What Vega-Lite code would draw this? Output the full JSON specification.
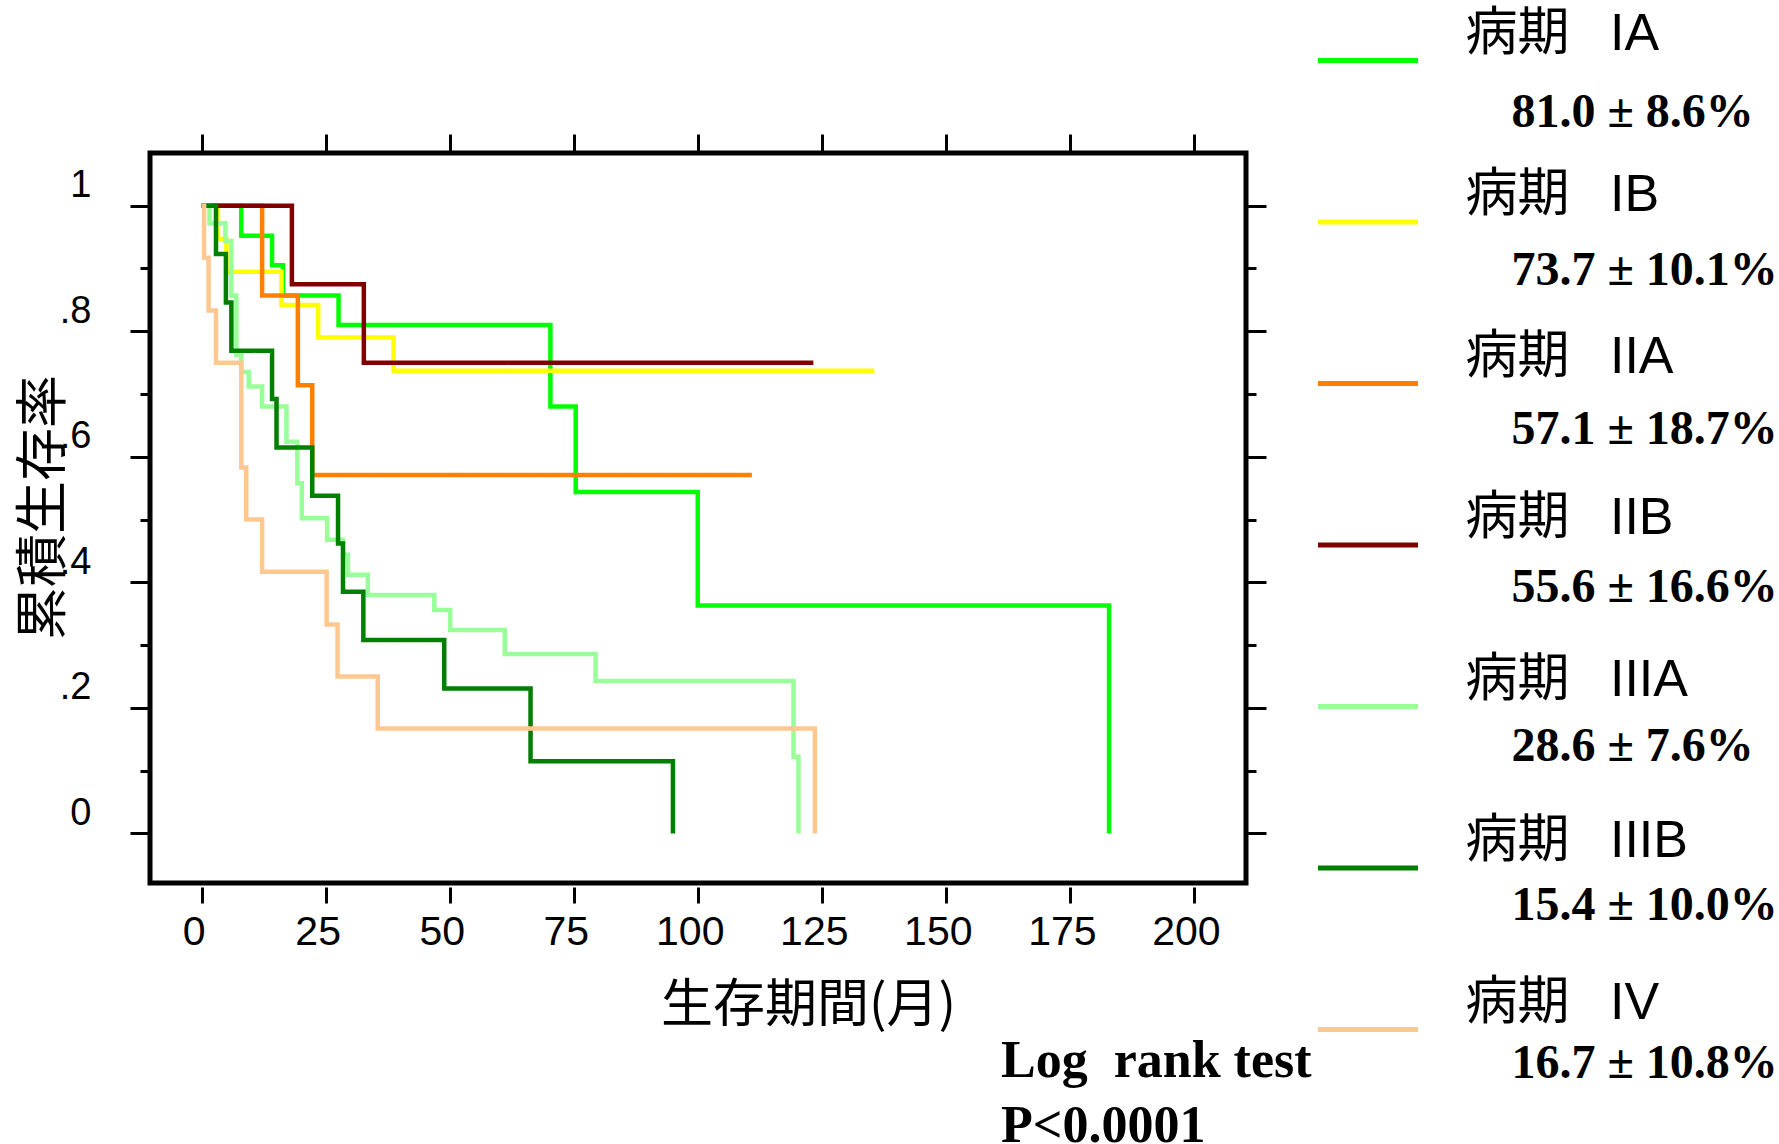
{
  "$schema": "https://vega.github.io/schema/vega-lite/v6.json",
  "width": 1096,
  "height": 730,
  "autosize": {"type": "none"},
  "padding": {"left": 150, "top": 153, "right": 533, "bottom": 261},
  "background": "white",
  "title": {
    "text": ["Log\u00a0\u00a0rank test", "P<0.0001"],
    "orient": "bottom",
    "anchor": "start",
    "frame": "group",
    "dx": 851,
    "offset": -52.5,
    "font": "Liberation Serif",
    "fontSize": 52,
    "fontWeight": "bold",
    "color": "black",
    "lineHeight": 65,
    "align": "left",
    "baseline": "top"
  },
  "datasets": {
    "stages": [
      {"stage": "IA", "label": "病期\u2002\u00a0IA", "rate": "81.0 ± 8.6%"},
      {"stage": "IB", "label": "病期\u2002\u00a0IB", "rate": "73.7 ± 10.1%"},
      {"stage": "IIA", "label": "病期\u2002\u00a0IIA", "rate": "57.1 ± 18.7%"},
      {"stage": "IIB", "label": "病期\u2002\u00a0IIB", "rate": "55.6 ± 16.6%"},
      {"stage": "IIIA", "label": "病期\u2002\u00a0IIIA", "rate": "28.6 ± 7.6%"},
      {"stage": "IIIB", "label": "病期\u2002\u00a0IIIB", "rate": "15.4 ± 10.0%"},
      {"stage": "IV", "label": "病期\u2002\u00a0IV", "rate": "16.7 ± 10.8%"}
    ],
    "curves": [
      {"stage": "IA", "month": 0, "surv": 1},
      {"stage": "IA", "month": 8.0, "surv": 0.952},
      {"stage": "IA", "month": 14.2, "surv": 0.905},
      {"stage": "IA", "month": 16.4, "surv": 0.857},
      {"stage": "IA", "month": 27.6, "surv": 0.810},
      {"stage": "IA", "month": 70.3, "surv": 0.680},
      {"stage": "IA", "month": 75.4, "surv": 0.544},
      {"stage": "IA", "month": 100.0, "surv": 0.363},
      {"stage": "IA", "month": 182.9, "surv": 0},

      {"stage": "IB", "month": 0, "surv": 1},
      {"stage": "IB", "month": 3.3, "surv": 0.947},
      {"stage": "IB", "month": 5.0, "surv": 0.895},
      {"stage": "IB", "month": 16.1, "surv": 0.842},
      {"stage": "IB", "month": 23.5, "surv": 0.790},
      {"stage": "IB", "month": 38.7, "surv": 0.737},
      {"stage": "IB", "month": 135.6, "surv": 0.737},

      {"stage": "IIA", "month": 0, "surv": 1},
      {"stage": "IIA", "month": 12.2, "surv": 0.857},
      {"stage": "IIA", "month": 19.4, "surv": 0.714},
      {"stage": "IIA", "month": 22.3, "surv": 0.571},
      {"stage": "IIA", "month": 110.9, "surv": 0.571},

      {"stage": "IIB", "month": 0, "surv": 1},
      {"stage": "IIB", "month": 18.2, "surv": 0.875},
      {"stage": "IIB", "month": 32.7, "surv": 0.750},
      {"stage": "IIB", "month": 123.3, "surv": 0.750},

      {"stage": "IIIA", "month": 0, "surv": 1},
      {"stage": "IIIA", "month": 1.6, "surv": 0.972},
      {"stage": "IIIA", "month": 4.8, "surv": 0.944},
      {"stage": "IIIA", "month": 6.0, "surv": 0.857},
      {"stage": "IIIA", "month": 7.0, "surv": 0.762},
      {"stage": "IIIA", "month": 8.0, "surv": 0.735},
      {"stage": "IIIA", "month": 9.5, "surv": 0.712},
      {"stage": "IIIA", "month": 12.2, "surv": 0.680},
      {"stage": "IIIA", "month": 17.1, "surv": 0.624},
      {"stage": "IIIA", "month": 19.3, "surv": 0.558},
      {"stage": "IIIA", "month": 20.2, "surv": 0.502},
      {"stage": "IIIA", "month": 25.3, "surv": 0.468},
      {"stage": "IIIA", "month": 28.5, "surv": 0.444},
      {"stage": "IIIA", "month": 29.5, "surv": 0.412},
      {"stage": "IIIA", "month": 33.5, "surv": 0.380},
      {"stage": "IIIA", "month": 46.9, "surv": 0.356},
      {"stage": "IIIA", "month": 50.1, "surv": 0.324},
      {"stage": "IIIA", "month": 61.1, "surv": 0.286},
      {"stage": "IIIA", "month": 79.4, "surv": 0.243},
      {"stage": "IIIA", "month": 119.3, "surv": 0.122},
      {"stage": "IIIA", "month": 120.3, "surv": 0},

      {"stage": "IIIB", "month": 0, "surv": 1},
      {"stage": "IIIB", "month": 2.9, "surv": 0.923},
      {"stage": "IIIB", "month": 4.9, "surv": 0.846},
      {"stage": "IIIB", "month": 6.0, "surv": 0.769},
      {"stage": "IIIB", "month": 14.2, "surv": 0.692},
      {"stage": "IIIB", "month": 15.1, "surv": 0.615},
      {"stage": "IIIB", "month": 22.3, "surv": 0.538},
      {"stage": "IIIB", "month": 27.5, "surv": 0.462},
      {"stage": "IIIB", "month": 28.5, "surv": 0.385},
      {"stage": "IIIB", "month": 32.6, "surv": 0.308},
      {"stage": "IIIB", "month": 48.9, "surv": 0.231},
      {"stage": "IIIB", "month": 66.3, "surv": 0.115},
      {"stage": "IIIB", "month": 95.0, "surv": 0},

      {"stage": "IV", "month": 0, "surv": 1},
      {"stage": "IV", "month": 0.5, "surv": 0.917},
      {"stage": "IV", "month": 1.4, "surv": 0.833},
      {"stage": "IV", "month": 2.9, "surv": 0.750},
      {"stage": "IV", "month": 8.0, "surv": 0.583},
      {"stage": "IV", "month": 9.0, "surv": 0.500},
      {"stage": "IV", "month": 12.2, "surv": 0.417},
      {"stage": "IV", "month": 25.2, "surv": 0.333},
      {"stage": "IV", "month": 27.4, "surv": 0.250},
      {"stage": "IV", "month": 35.5, "surv": 0.167},
      {"stage": "IV", "month": 123.6, "surv": 0}
    ]
  },
  "layer": [
    {
      "data": {"name": "curves"},
      "transform": [
        {"lookup": "stage", "from": {"data": {"name": "stages"}, "key": "stage", "fields": ["label", "rate"]}}
      ],
      "mark": {"type": "line", "interpolate": "step-after", "strokeWidth": 4.5},
      "encoding": {
        "x": {
          "field": "month",
          "type": "quantitative",
          "scale": {"domain": [-10.4, 210.5], "nice": false, "zero": false},
          "axis": {
            "orient": "bottom",
            "values": [0, 25, 50, 75, 100, 125, 150, 175, 200],
            "offset": 4,
            "tickSize": 16,
            "labelFont": "Liberation Sans",
            "labelFontSize": 41,
            "labelPadding": 9,
            "labelOffset": -8,
            "labelFlush": false,
            "labelOverlap": false,
            "title": "生存期間(月)",
            "titleFont": "Noto Sans CJK JP",
            "titleFontSize": 52,
            "titleFontWeight": "normal",
            "titleX": 658,
            "titleY": 118,
            "titleAlign": "center",
            "titleBaseline": "middle"
          }
        },
        "y": {
          "field": "surv",
          "type": "quantitative",
          "scale": {"domain": [-0.079, 1.084], "nice": false, "zero": false},
          "axis": {
            "orient": "left",
            "values": [0, 0.1, 0.2, 0.3, 0.4, 0.5, 0.6, 0.7, 0.8, 0.9, 1],
            "tickSize": {"condition": {"test": "round(datum.value * 10) % 2 == 0", "value": 20}, "value": 10},
            "labelExpr": "datum.value == 0 ? '0' : datum.value == 1 ? '1' : (round(datum.value * 10) % 2 == 0 ? replace(format(datum.value, '.1f'), '0.', '.') : '')",
            "labelFont": "Liberation Sans",
            "labelFontSize": 38,
            "labelPadding": 39,
            "labelOffset": -20,
            "labelFlush": false,
            "labelOverlap": false,
            "title": "累積生存率",
            "titleFont": "Noto Sans CJK JP",
            "titleFontSize": 53,
            "titleFontWeight": "normal",
            "titleAngle": -90,
            "titleX": -106,
            "titleY": 354,
            "titleAlign": "center",
            "titleBaseline": "middle"
          }
        },
        "color": {
          "field": "label",
          "type": "nominal",
          "scale": {
            "domain": ["病期\u2002\u00a0IA", "病期\u2002\u00a0IB", "病期\u2002\u00a0IIA", "病期\u2002\u00a0IIB", "病期\u2002\u00a0IIIA", "病期\u2002\u00a0IIIB", "病期\u2002\u00a0IV"],
            "range": ["#00FF00", "#FFFF00", "#FF8000", "#800000", "#99FF99", "#007F00", "#FFC890"]
          },
          "legend": {
            "orient": "none",
            "legendX": 1165.5,
            "legendY": -145,
            "direction": "vertical",
            "title": null,
            "padding": 0,
            "symbolType": "stroke",
            "symbolSize": 10000,
            "symbolStrokeWidth": 5,
            "labelFont": "Liberation Sans, Noto Sans CJK JP",
            "labelFontSize": 52,
            "labelColor": "black",
            "labelBaseline": "bottom",
            "labelOffset": 45,
            "labelLimit": 0,
            "rowPadding": 97.5
          }
        },
        "strokeDash": {
          "field": "rate",
          "type": "nominal",
          "scale": {
            "domain": ["81.0 ± 8.6%", "73.7 ± 10.1%", "57.1 ± 18.7%", "55.6 ± 16.6%", "28.6 ± 7.6%", "15.4 ± 10.0%", "16.7 ± 10.8%"],
            "range": [[1, 0], [1, 0], [1, 0], [1, 0], [1, 0], [1, 0], [1, 0]]
          },
          "legend": {
            "orient": "none",
            "legendX": 1165.5,
            "legendY": -64.4,
            "direction": "vertical",
            "title": null,
            "padding": 0,
            "symbolSize": 1,
            "symbolStrokeWidth": 0,
            "symbolOpacity": 0,
            "labelFont": "Liberation Serif",
            "labelFontSize": 48,
            "labelFontWeight": "bold",
            "labelColor": "black",
            "labelOffset": 148,
            "labelLimit": 0,
            "rowPadding": 110.6
          }
        }
      }
    },
    {
      "data": {"values": [{}]},
      "mark": {"type": "point", "opacity": 0},
      "encoding": {
        "x": {
          "datum": 0,
          "type": "quantitative",
          "scale": {"domain": [-10.4, 210.5], "nice": false, "zero": false},
          "axis": {
            "orient": "top",
            "values": [0, 25, 50, 75, 100, 125, 150, 175, 200],
            "tickSize": 19,
            "labels": false,
            "title": null
          }
        },
        "y": {
          "datum": 0,
          "type": "quantitative",
          "scale": {"domain": [-0.079, 1.084], "nice": false, "zero": false},
          "axis": {
            "orient": "right",
            "values": [0, 0.1, 0.2, 0.3, 0.4, 0.5, 0.6, 0.7, 0.8, 0.9, 1],
            "tickSize": {"condition": {"test": "round(datum.value * 10) % 2 == 0", "value": 20}, "value": 10},
            "labels": false,
            "title": null
          }
        }
      }
    }
  ],
  "resolve": {"axis": {"x": "independent", "y": "independent"}},
  "config": {
    "view": {"stroke": "black", "strokeWidth": 5},
    "axis": {
      "domain": false,
      "grid": false,
      "tickColor": "black",
      "tickWidth": 3,
      "labelColor": "black",
      "titleColor": "black"
    }
  }
}
